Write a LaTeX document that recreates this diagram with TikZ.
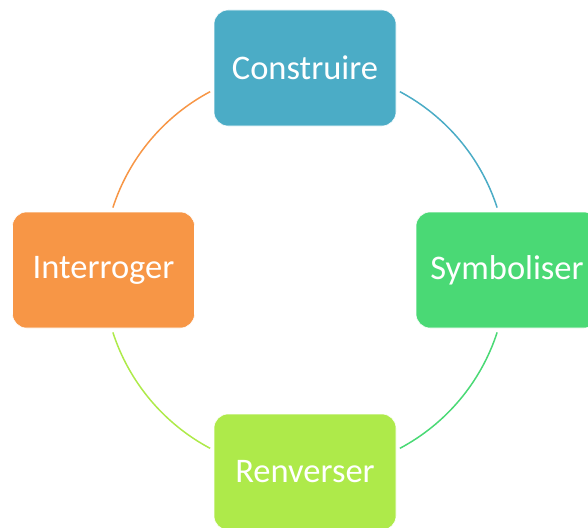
\documentclass[tikz,border=0pt]{standalone}
\usepackage{fontspec}
\setmainfont{Carlito}
\definecolor{cTeal}{RGB}{75,172,198}
\definecolor{cGreen}{RGB}{74,217,117}
\definecolor{cLime}{RGB}{174,234,74}
\definecolor{cOrange}{RGB}{247,150,70}
\begin{document}
\begin{tikzpicture}[x=1pt,y=-1pt,
  box/.style={rounded corners=14pt, minimum width=182pt, minimum height=116pt,
    inner sep=0pt, text=white, font=\fontsize{34.5}{38}\selectfont, draw=white, line width=0.6pt},
  arcline/.style={line width=1.5pt}]
\useasboundingbox (0,0) rectangle (588,527);
\clip (0,0) rectangle (588,527);
\coordinate (c) at (305,270);
\node[box, fill=cTeal] (con) at (305,68) {Construire};
\node[box, fill=cGreen] (sym) at (507,270) {Symboliser};
\node[box, fill=cLime] (ren) at (305,472) {Renverser};
\node[box, fill=cOrange] (int) at (103.5,270) {Interroger};
\draw[arcline, cTeal] ([shift={(62:202 and -202)}]c) arc[start angle=62, end angle=18, x radius=202, y radius=-202];
\draw[arcline, cGreen] ([shift={(-18:202 and -202)}]c) arc[start angle=-18, end angle=-62, x radius=202, y radius=-202];
\draw[arcline, cLime] ([shift={(-118:202 and -202)}]c) arc[start angle=-118, end angle=-162, x radius=202, y radius=-202];
\draw[arcline, cOrange] ([shift={(162:202 and -202)}]c) arc[start angle=162, end angle=118, x radius=202, y radius=-202];
\end{tikzpicture}
\end{document}
